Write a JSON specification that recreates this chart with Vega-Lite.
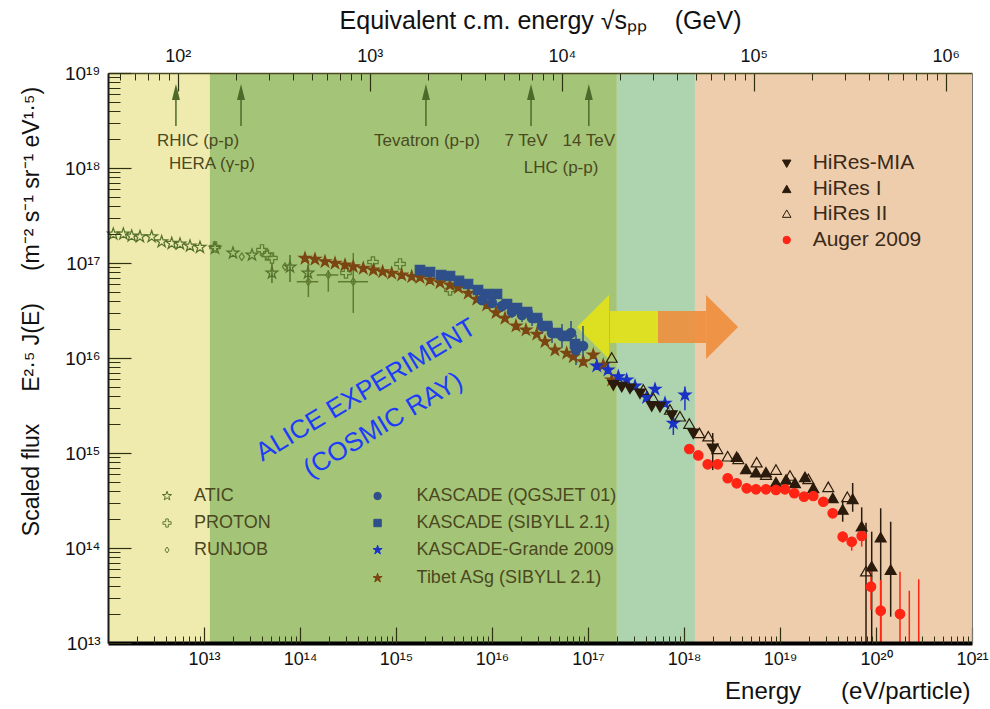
{
"$schema":"https://vega.github.io/schema/vega-lite/v6.json",
"width":864,"height":570,"autosize":"none",
"padding":{"left":108,"top":73,"right":18,"bottom":66},
"background":"#ffffff",
"config":{"view":{"stroke":null},"font":"Liberation Sans","axis":{"grid":false}},
"datasets":{
"bands":[{"band":"a","E":1e12,"E2":1.15e13},{"band":"b","E":1.15e13,"E2":2.0e17},{"band":"c","E":2.0e17,"E2":1.3e18},{"band":"d","E":1.3e18,"E2":1e21}],
"pts":[
{"exp":"ATIC","E":1.135e12,"F":2.018e17},{"exp":"ATIC","E":1.445e12,"F":2.018e17},{"exp":"ATIC","E":1.766e12,"F":1.923e17},{"exp":"ATIC","E":2.153e12,"F":1.892e17},{"exp":"ATIC","E":2.851e12,"F":1.892e17},{"exp":"ATIC","E":3.622e12,"F":1.675e17},{"exp":"ATIC","E":4.613e12,"F":1.611e17},{"exp":"ATIC","E":5.623e12,"F":1.585e17},{"exp":"ATIC","E":7.145e12,"F":1.51e17},{"exp":"ATIC","E":9.08e12,"F":1.462e17},{"exp":"ATIC","E":1.303e13,"F":1.429e17},{"exp":"ATIC","E":2.004e13,"F":1.274e17},{"exp":"ATIC","E":3.162e13,"F":1.213e17},{"exp":"ATIC","E":5.105e13,"F":7.85e16,"Flo":6.15e16,"Fhi":1.0e17},{"exp":"ATIC","E":7.87e13,"F":9.08e16,"Flo":6.31e16,"Fhi":1.213e17},{"exp":"ATIC","E":1.211e14,"F":7.85e16,"Flo":6.3e16,"Fhi":9.5e16},
{"exp":"PROTON","E":1.303e13,"F":1.472e17},{"exp":"PROTON","E":4.018e13,"F":1.371e17},{"exp":"PROTON","E":4.529e13,"F":1.213e17},{"exp":"PROTON","E":5.105e13,"F":1.13e17},{"exp":"PROTON","E":3.013e14,"F":7.85e16},{"exp":"PROTON","E":5.754e14,"F":1.023e17},{"exp":"PROTON","E":1.102e15,"F":9.77e16},{"exp":"PROTON","E":3.652e15,"F":5.2e16},
{"exp":"RUNJOB","E":2.472e13,"F":1.164e17},{"exp":"RUNJOB","E":6.982e13,"F":9.14e16},{"exp":"RUNJOB","E":1.222e14,"F":6.353e16,"Flo":4.385e16,"Fhi":1.076e17,"Elo":9.25e13,"Ehi":1.552e14},{"exp":"RUNJOB","E":1.972e14,"F":7.48e16,"Flo":4.99e16,"Fhi":8.43e16,"Elo":1.493e14,"Ehi":2.506e14},{"exp":"RUNJOB","E":3.589e14,"F":6.353e16,"Flo":2.979e16,"Fhi":1.274e17,"Elo":2.489e14,"Ehi":5.105e14},
{"exp":"Tibet ASg (SIBYLL 2.1)","E":1.127e14,"F":1.119e17},{"exp":"Tibet ASg (SIBYLL 2.1)","E":1.432e14,"F":1.094e17},{"exp":"Tibet ASg (SIBYLL 2.1)","E":1.82e14,"F":1.033e17},{"exp":"Tibet ASg (SIBYLL 2.1)","E":2.317e14,"F":9.93e16},{"exp":"Tibet ASg (SIBYLL 2.1)","E":2.944e14,"F":9.53e16},{"exp":"Tibet ASg (SIBYLL 2.1)","E":3.589e14,"F":9.14e16},{"exp":"Tibet ASg (SIBYLL 2.1)","E":4.56e14,"F":8.79e16},{"exp":"Tibet ASg (SIBYLL 2.1)","E":5.808e14,"F":8.43e16},{"exp":"Tibet ASg (SIBYLL 2.1)","E":7.26e14,"F":8.09e16},{"exp":"Tibet ASg (SIBYLL 2.1)","E":9.02e14,"F":7.8e16},{"exp":"Tibet ASg (SIBYLL 2.1)","E":1.146e15,"F":7.48e16},{"exp":"Tibet ASg (SIBYLL 2.1)","E":1.459e15,"F":7.18e16},{"exp":"Tibet ASg (SIBYLL 2.1)","E":1.778e15,"F":7.06e16},{"exp":"Tibet ASg (SIBYLL 2.1)","E":2.259e15,"F":6.62e16},{"exp":"Tibet ASg (SIBYLL 2.1)","E":2.871e15,"F":6.21e16},{"exp":"Tibet ASg (SIBYLL 2.1)","E":3.652e15,"F":5.86e16},{"exp":"Tibet ASg (SIBYLL 2.1)","E":4.457e15,"F":5.5e16},{"exp":"Tibet ASg (SIBYLL 2.1)","E":5.662e15,"F":4.8e16},{"exp":"Tibet ASg (SIBYLL 2.1)","E":6.934e15,"F":4.15e16},{"exp":"Tibet ASg (SIBYLL 2.1)","E":8.81e15,"F":3.614e16},{"exp":"Tibet ASg (SIBYLL 2.1)","E":1.102e16,"F":3.0e16},{"exp":"Tibet ASg (SIBYLL 2.1)","E":1.365e16,"F":2.618e16},{"exp":"Tibet ASg (SIBYLL 2.1)","E":1.778e16,"F":2.173e16},{"exp":"Tibet ASg (SIBYLL 2.1)","E":2.259e16,"F":1.972e16},{"exp":"Tibet ASg (SIBYLL 2.1)","E":2.924e16,"F":1.778e16},{"exp":"Tibet ASg (SIBYLL 2.1)","E":3.565e16,"F":1.486e16},{"exp":"Tibet ASg (SIBYLL 2.1)","E":4.529e16,"F":1.213e16},{"exp":"Tibet ASg (SIBYLL 2.1)","E":6.0e16,"F":1.122e16},{"exp":"Tibet ASg (SIBYLL 2.1)","E":7.03e16,"F":1.033e16},{"exp":"Tibet ASg (SIBYLL 2.1)","E":8.93e16,"F":9.14e15},{"exp":"Tibet ASg (SIBYLL 2.1)","E":1.135e17,"F":1.076e16},{"exp":"Tibet ASg (SIBYLL 2.1)","E":1.442e17,"F":8.43e15},{"exp":"Tibet ASg (SIBYLL 2.1)","E":1.766e17,"F":5.86e15},
{"exp":"KASCADE (SIBYLL 2.1)","E":1.778e15,"F":8.43e16},{"exp":"KASCADE (SIBYLL 2.1)","E":2.259e15,"F":8.04e16},{"exp":"KASCADE (SIBYLL 2.1)","E":2.944e15,"F":7.48e16},{"exp":"KASCADE (SIBYLL 2.1)","E":3.652e15,"F":7.3e16},{"exp":"KASCADE (SIBYLL 2.1)","E":4.529e15,"F":6.47e16},{"exp":"KASCADE (SIBYLL 2.1)","E":5.623e15,"F":6.01e16},{"exp":"KASCADE (SIBYLL 2.1)","E":7.145e15,"F":5.2e16},{"exp":"KASCADE (SIBYLL 2.1)","E":8.87e15,"F":4.72e16},{"exp":"KASCADE (SIBYLL 2.1)","E":1.127e16,"F":4.72e16},{"exp":"KASCADE (SIBYLL 2.1)","E":1.432e16,"F":3.7e16},{"exp":"KASCADE (SIBYLL 2.1)","E":1.82e16,"F":3.357e16},{"exp":"KASCADE (SIBYLL 2.1)","E":2.317e16,"F":3.048e16},{"exp":"KASCADE (SIBYLL 2.1)","E":2.944e16,"F":2.636e16},{"exp":"KASCADE (SIBYLL 2.1)","E":3.741e16,"F":2.173e16},{"exp":"KASCADE (SIBYLL 2.1)","E":4.753e16,"F":1.832e16},{"exp":"KASCADE (SIBYLL 2.1)","E":5.9e16,"F":1.706e16},{"exp":"KASCADE (SIBYLL 2.1)","E":7.33e16,"F":1.403e16},
{"exp":"KASCADE (QGSJET 01)","E":7.87e15,"F":4.083e16,"Flo":3.61e16,"Fhi":4.61e16},{"exp":"KASCADE (QGSJET 01)","E":1.0e16,"F":3.793e16,"Flo":3.36e16,"Fhi":4.29e16},{"exp":"KASCADE (QGSJET 01)","E":1.271e16,"F":3.524e16,"Flo":3.05e16,"Fhi":4.07e16},{"exp":"KASCADE (QGSJET 01)","E":1.614e16,"F":3.048e16,"Flo":2.64e16,"Fhi":3.52e16},{"exp":"KASCADE (QGSJET 01)","E":2.054e16,"F":2.838e16,"Flo":2.39e16,"Fhi":3.37e16},{"exp":"KASCADE (QGSJET 01)","E":2.612e16,"F":2.636e16,"Flo":2.17e16,"Fhi":3.2e16},{"exp":"KASCADE (QGSJET 01)","E":3.319e16,"F":2.173e16,"Flo":1.79e16,"Fhi":2.64e16},{"exp":"KASCADE (QGSJET 01)","E":4.217e16,"F":1.832e16,"Flo":1.44e16,"Fhi":2.33e16},{"exp":"KASCADE (QGSJET 01)","E":5.358e16,"F":1.706e16,"Flo":1.28e16,"Fhi":2.28e16},{"exp":"KASCADE (QGSJET 01)","E":6.653e16,"F":1.832e16,"Flo":1.37e16,"Fhi":2.45e16},{"exp":"KASCADE (QGSJET 01)","E":7.5e16,"F":1.213e16,"Flo":8.43e15,"Fhi":1.75e16},{"exp":"KASCADE (QGSJET 01)","E":8.87e16,"F":1.337e16,"Flo":8.25e15,"Fhi":2.17e16},
{"exp":"KASCADE-Grande 2009","E":1.233e17,"F":8.24e15},{"exp":"KASCADE-Grande 2009","E":1.614e17,"F":7.48e15},{"exp":"KASCADE-Grande 2009","E":2.07e17,"F":6.353e15},{"exp":"KASCADE-Grande 2009","E":2.529e17,"F":5.86e15},{"exp":"KASCADE-Grande 2009","E":3.09e17,"F":5.07e15},{"exp":"KASCADE-Grande 2009","E":4.083e17,"F":3.855e15},{"exp":"KASCADE-Grande 2009","E":4.989e17,"F":4.688e15},{"exp":"KASCADE-Grande 2009","E":6.339e17,"F":3.334e15},{"exp":"KASCADE-Grande 2009","E":7.745e17,"F":2.056e15,"Flo":1.549e15,"Fhi":2.512e15},{"exp":"KASCADE-Grande 2009","E":1.023e18,"F":4.083e15,"Flo":2.818e15,"Fhi":5.012e15},
{"exp":"HiRes-MIA","E":1.837e17,"F":5.2e15},{"exp":"HiRes-MIA","E":2.244e17,"F":4.989e15},{"exp":"HiRes-MIA","E":2.738e17,"F":4.797e15},{"exp":"HiRes-MIA","E":3.483e17,"F":4.246e15},{"exp":"HiRes-MIA","E":4.613e17,"F":3.126e15},{"exp":"HiRes-MIA","E":5.623e17,"F":3.069e15},{"exp":"HiRes-MIA","E":7.447e17,"F":2.512e15},{"exp":"HiRes-MIA","E":1.25e18,"F":1.611e15},{"exp":"HiRes-MIA","E":1.991e18,"F":1.119e15,"Flo":6.61e14,"Fhi":1.622e15},
{"exp":"HiRes I","E":3.54e18,"F":9.02e14},{"exp":"HiRes I","E":4.426e18,"F":6.73e14},{"exp":"HiRes I","E":5.623e18,"F":6.21e14},{"exp":"HiRes I","E":7.145e18,"F":6.21e14},{"exp":"HiRes I","E":9.08e18,"F":4.864e14},{"exp":"HiRes I","E":1.156e19,"F":5.2e14},{"exp":"HiRes I","E":1.432e19,"F":4.797e14},{"exp":"HiRes I","E":1.82e19,"F":5.546e14},{"exp":"HiRes I","E":2.223e19,"F":4.246e14},{"exp":"HiRes I","E":3.54e19,"F":3.334e14},{"exp":"HiRes I","E":4.498e19,"F":2.512e14,"Flo":1.89e14,"Fhi":3.2e14},{"exp":"HiRes I","E":5.715e19,"F":3.258e14,"Flo":2.41e14,"Fhi":4.83e14},{"exp":"HiRes I","E":7.096e19,"F":1.675e14,"Flo":1.545e14,"Fhi":2.68e14},{"exp":"HiRes I","E":9.02e19,"F":6.353e13,"Flo":1e13,"Fhi":1.486e14},{"exp":"HiRes I","E":1.119e20,"F":1.282e14,"Flo":1e13,"Fhi":2.618e14},{"exp":"HiRes I","E":1.422e20,"F":5.86e13,"Flo":1.892e13,"Fhi":1.89e14},
{"exp":"HiRes II","E":1.766e17,"F":1.0e16},{"exp":"HiRes II","E":3.767e17,"F":4.603e15},{"exp":"HiRes II","E":4.786e17,"F":3.767e15},{"exp":"HiRes II","E":7.145e17,"F":2.838e15},{"exp":"HiRes II","E":9.08e17,"F":2.41e15},{"exp":"HiRes II","E":1.135e18,"F":2.018e15},{"exp":"HiRes II","E":1.445e18,"F":1.611e15},{"exp":"HiRes II","E":1.791e18,"F":1.486e15},{"exp":"HiRes II","E":2.223e18,"F":1.094e15},{"exp":"HiRes II","E":2.851e18,"F":9.14e14},{"exp":"HiRes II","E":3.681e18,"F":8.59e14},{"exp":"HiRes II","E":5.715e18,"F":7.91e14},{"exp":"HiRes II","E":7.145e18,"F":5.86e14},{"exp":"HiRes II","E":9.08e18,"F":6.62e14},{"exp":"HiRes II","E":1.271e19,"F":5.73e14},{"exp":"HiRes II","E":1.972e19,"F":5.28e14},{"exp":"HiRes II","E":3.184e19,"F":4.355e14},{"exp":"HiRes II","E":5.023e19,"F":3.42e14},{"exp":"HiRes II","E":7.87e19,"F":5.64e13,"Flo":1e13,"Fhi":1.845e14},
{"exp":"Auger 2009","E":1.135e18,"F":1.102e15},{"exp":"Auger 2009","E":1.409e18,"F":9.42e14},{"exp":"Auger 2009","E":1.766e18,"F":7.6e14},{"exp":"Auger 2009","E":2.244e18,"F":7.6e14},{"exp":"Auger 2009","E":2.851e18,"F":5.42e14},{"exp":"Auger 2009","E":3.54e18,"F":4.797e14},{"exp":"Auger 2009","E":4.498e18,"F":4.246e14},{"exp":"Auger 2009","E":5.623e18,"F":4.15e14},{"exp":"Auger 2009","E":7.145e18,"F":4.15e14},{"exp":"Auger 2009","E":9.08e18,"F":4.083e14},{"exp":"Auger 2009","E":1.127e19,"F":4.15e14},{"exp":"Auger 2009","E":1.409e19,"F":3.767e14},{"exp":"Auger 2009","E":1.778e19,"F":3.467e14},{"exp":"Auger 2009","E":2.223e19,"F":3.524e14},{"exp":"Auger 2009","E":2.825e19,"F":3.069e14},{"exp":"Auger 2009","E":3.54e19,"F":2.317e14},{"exp":"Auger 2009","E":4.498e19,"F":1.315e14,"Flo":1.138e14,"Fhi":1.486e14},{"exp":"Auger 2009","E":5.585e19,"F":1.164e14,"Flo":9.38e13,"Fhi":1.315e14},{"exp":"Auger 2009","E":7.096e19,"F":1.337e14,"Flo":1.033e14,"Fhi":1.545e14},{"exp":"Auger 2009","E":8.87e19,"F":3.917e13,"Flo":2.223e13,"Fhi":6.11e13},{"exp":"Auger 2009","E":1.119e20,"F":2.188e13,"Flo":1e13,"Fhi":4.6e13},{"exp":"Auger 2009","E":1.778e20,"F":2.018e13,"Flo":1e13,"Fhi":5.64e13},{"exp":"Auger 2009","E":2.223e20,"F":null,"Flo":1e13,"Fhi":3.548e13},{"exp":"Auger 2009","E":2.786e20,"F":null,"Flo":1e13,"Fhi":4.69e13}
],
"leg":[
{"exp":"ATIC","E":4.12e12,"Et":7.87e12,"F":3.524e14,"label":"ATIC","grp":"a"},
{"exp":"PROTON","E":4.12e12,"Et":7.87e12,"F":1.832e14,"label":"PROTON","grp":"a"},
{"exp":"RUNJOB","E":4.12e12,"Et":7.87e12,"F":9.53e13,"label":"RUNJOB","grp":"a"},
{"exp":"KASCADE (QGSJET 01)","E":6.43e14,"Et":1.637e15,"F":3.524e14,"label":"KASCADE (QGSJET 01)","grp":"a"},
{"exp":"KASCADE (SIBYLL 2.1)","E":6.43e14,"Et":1.637e15,"F":1.832e14,"label":"KASCADE (SIBYLL 2.1)","grp":"a"},
{"exp":"KASCADE-Grande 2009","E":6.43e14,"Et":1.637e15,"F":9.53e13,"label":"KASCADE-Grande 2009","grp":"a"},
{"exp":"Tibet ASg (SIBYLL 2.1)","E":6.43e14,"Et":1.637e15,"F":4.83e13,"label":"Tibet ASg (SIBYLL 2.1)","grp":"a"},
{"exp":"HiRes-MIA","E":1.175e19,"Et":2.188e19,"F":1.119e18,"label":"HiRes-MIA","grp":"b"},
{"exp":"HiRes I","E":1.175e19,"Et":2.188e19,"F":5.97e17,"label":"HiRes I","grp":"b"},
{"exp":"HiRes II","E":1.175e19,"Et":2.188e19,"F":3.28e17,"label":"HiRes II","grp":"b"},
{"exp":"Auger 2009","E":1.175e19,"Et":2.188e19,"F":1.746e17,"label":"Auger 2009","grp":"b"}
],
"colliders":[{"E":5.1e12,"F":2.77e18,"F2":6.31e18},{"E":2.43e13,"F":2.77e18,"F2":6.31e18},{"E":2.05e15,"F":2.77e18,"F2":6.31e18},{"E":2.55e16,"F":2.77e18,"F2":6.31e18},{"E":1.02e17,"F":2.77e18,"F2":6.31e18}],
"notes":[{"label":"RHIC (p-p)","E":8.66e12,"F":1.92e18},{"label":"HERA (\u03b3-p)","E":1.21e13,"F":1.10e18},{"label":"Tevatron (p-p)","E":2.1e15,"F":1.92e18},{"label":"7 TeV","E":2.26e16,"F":1.92e18},{"label":"14 TeV","E":1.02e17,"F":1.92e18},{"label":"LHC (p-p)","E":5.24e16,"F":1.0e18}],
"alice":[{"label":"ALICE EXPERIMENT","E":4.87e14,"F":4.6e15},{"label":"(COSMIC RAY)","E":7.33e14,"F":1.97e15}]
},
"layer":[
{"data":{"name":"bands"},"mark":{"type":"rect"},
 "encoding":{
  "x":{"field":"E","type":"quantitative","scale":{"type":"log","domain":[1e12,1e21]},"axis":{"orient":"bottom","ticks":false,"labels":false,"grid":false,"domain":true,"domainColor":"#000000","domainWidth":4,"title":"Energy\u00a0\u00a0\u00a0\u00a0\u00a0\u00a0(eV/particle)","titleFontSize":24,"titleFontWeight":"normal","titleColor":"#111111","titleX":862,"titleY":48,"titleAlign":"right","titleBaseline":"middle","zindex":1}},
  "x2":{"field":"E2"},
  "y":{"datum":1e13,"type":"quantitative","scale":{"type":"log","domain":[1e13,1e19]},"axis":null},
  "y2":{"datum":1e19},
  "color":{"field":"band","type":"nominal","scale":{"domain":["a","b","c","d"],"range":["#EFEBAF","#A4C578","#AED3AF","#EECDAD"]},"legend":null}
 }},
{"data":{"values":[{"E":1.694e17,"E2":5.36e17,"F":1.44e16,"F2":3.126e16}]},"mark":{"type":"rect","color":"#E0E01C","opacity":0.95},
 "encoding":{"x":{"field":"E","type":"quantitative","scale":{"type":"log","domain":[1e12,1e21]},"axis":null},"x2":{"field":"E2"},"y":{"field":"F","type":"quantitative","scale":{"type":"log","domain":[1e13,1e19]},"axis":null},"y2":{"field":"F2"}}},
{"data":{"values":[{"E":5.36e17,"E2":1.694e18,"F":1.44e16,"F2":3.126e16}]},"mark":{"type":"rect","color":"#EE8E3C","opacity":0.9},
 "encoding":{"x":{"field":"E","type":"quantitative","scale":{"type":"log","domain":[1e12,1e21]},"axis":null},"x2":{"field":"E2"},"y":{"field":"F","type":"quantitative","scale":{"type":"log","domain":[1e13,1e19]},"axis":null},"y2":{"field":"F2"}}},
{"data":{"values":[{"E":1.127e17,"F":2.12e16}]},"mark":{"type":"point","filled":true,"shape":"M-1,0L1,-2L1,2Z","size":1024,"color":"#E0E01C","opacity":0.95,"strokeWidth":0},
 "encoding":{"x":{"field":"E","type":"quantitative","scale":{"type":"log","domain":[1e12,1e21]},"axis":null},"y":{"field":"F","type":"quantitative","scale":{"type":"log","domain":[1e13,1e19]},"axis":null}}},
{"data":{"values":[{"E":2.49e18,"F":2.12e16}]},"mark":{"type":"point","filled":true,"shape":"M1,0L-1,-2L-1,2Z","size":1024,"color":"#EE8E3C","opacity":0.9,"strokeWidth":0},
 "encoding":{"x":{"field":"E","type":"quantitative","scale":{"type":"log","domain":[1e12,1e21]},"axis":null},"y":{"field":"F","type":"quantitative","scale":{"type":"log","domain":[1e13,1e19]},"axis":null}}},
{"data":{"name":"pts"},"transform":[{"filter":"isValid(datum.Flo)"}],"mark":{"type":"rule","strokeWidth":1.5},
 "encoding":{
  "x":{"field":"E","type":"quantitative","scale":{"type":"log","domain":[1e12,1e21]},"axis":{"orient":"bottom","offset":-16,"tickSize":16,"values":[1e13,1e14,1e15,1e16,1e17,1e18,1e19,1e20,1e21],"domain":false,"grid":false,"title":null,"tickColor":"#2E3012","tickWidth":1.2,"labelExpr":"'10' + substring('\u2070\u00b9\u00b2\u00b3\u2074\u2075\u2076\u2077\u2078\u2079', floor(round(log(datum.value)/LN10)/10), floor(round(log(datum.value)/LN10)/10)+1) + substring('\u2070\u00b9\u00b2\u00b3\u2074\u2075\u2076\u2077\u2078\u2079', round(log(datum.value)/LN10)%10, round(log(datum.value)/LN10)%10+1)","labelFontSize":18,"labelColor":"#111111","labelPadding":7,"labelFlush":false,"labelOverlap":false,"zindex":1}},
  "y":{"field":"Flo","type":"quantitative","scale":{"type":"log","domain":[1e13,1e19]},"axis":{"orient":"left","offset":-23,"tickSize":23,"values":[1e13,1e14,1e15,1e16,1e17,1e18,1e19],"domain":false,"grid":false,"title":null,"tickColor":"#2E3012","tickWidth":1.2,"labelExpr":"'10' + substring('\u2070\u00b9\u00b2\u00b3\u2074\u2075\u2076\u2077\u2078\u2079', floor(round(log(datum.value)/LN10)/10), floor(round(log(datum.value)/LN10)/10)+1) + substring('\u2070\u00b9\u00b2\u00b3\u2074\u2075\u2076\u2077\u2078\u2079', round(log(datum.value)/LN10)%10, round(log(datum.value)/LN10)%10+1)","labelFontSize":19,"labelColor":"#111111","labelPadding":8,"labelFlush":false,"labelOverlap":false,"zindex":1}},
  "y2":{"field":"Fhi"},
  "stroke":{"field":"exp","type":"nominal","scale":{"domain":["ATIC","PROTON","RUNJOB","KASCADE (QGSJET 01)","KASCADE (SIBYLL 2.1)","KASCADE-Grande 2009","Tibet ASg (SIBYLL 2.1)","HiRes-MIA","HiRes I","HiRes II","Auger 2009"],"range":["#55702C","#5F7B30","#5F7B30","#2F4F8A","#2F4F8A","#1A33C6","#7B4612","#2B1B0C","#2B1B0C","#2B1B0C","#FF2414"]},"legend":null}
 }},
{"data":{"name":"pts"},"transform":[{"filter":"isValid(datum.Elo)"}],"mark":{"type":"rule","strokeWidth":1.5},
 "encoding":{
  "x":{"field":"Elo","type":"quantitative","scale":{"type":"log","domain":[1e12,1e21]},"axis":{"orient":"bottom","offset":-7,"tickSize":7,"labels":false,"domain":false,"grid":false,"title":null,"tickColor":"#2E3012","tickWidth":1,"zindex":1,"values":[2e12,3e12,4e12,5e12,6e12,7e12,8e12,9e12,2e13,3e13,4e13,5e13,6e13,7e13,8e13,9e13,2e14,3e14,4e14,5e14,6e14,7e14,8e14,9e14,2e15,3e15,4e15,5e15,6e15,7e15,8e15,9e15,2e16,3e16,4e16,5e16,6e16,7e16,8e16,9e16,2e17,3e17,4e17,5e17,6e17,7e17,8e17,9e17,2e18,3e18,4e18,5e18,6e18,7e18,8e18,9e18,2e19,3e19,4e19,5e19,6e19,7e19,8e19,9e19,2e20,3e20,4e20,5e20,6e20,7e20,8e20,9e20]}},
  "x2":{"field":"Ehi"},
  "y":{"field":"F","type":"quantitative","scale":{"type":"log","domain":[1e13,1e19]},"axis":{"orient":"left","offset":-12,"tickSize":12,"labels":false,"domain":false,"grid":false,"title":null,"tickColor":"#2E3012","tickWidth":1,"zindex":1,"values":[2e13,3e13,4e13,5e13,6e13,7e13,8e13,9e13,2e14,3e14,4e14,5e14,6e14,7e14,8e14,9e14,2e15,3e15,4e15,5e15,6e15,7e15,8e15,9e15,2e16,3e16,4e16,5e16,6e16,7e16,8e16,9e16,2e17,3e17,4e17,5e17,6e17,7e17,8e17,9e17,2e18,3e18,4e18,5e18,6e18,7e18,8e18,9e18]}},
  "stroke":{"field":"exp","type":"nominal","scale":{"domain":["ATIC","PROTON","RUNJOB","KASCADE (QGSJET 01)","KASCADE (SIBYLL 2.1)","KASCADE-Grande 2009","Tibet ASg (SIBYLL 2.1)","HiRes-MIA","HiRes I","HiRes II","Auger 2009"],"range":["#55702C","#5F7B30","#5F7B30","#2F4F8A","#2F4F8A","#1A33C6","#7B4612","#2B1B0C","#2B1B0C","#2B1B0C","#FF2414"]},"legend":null}
 }},
{"data":{"name":"pts"},"mark":{"type":"point","filled":true,"size":90,"opacity":1,"strokeWidth":1.2},
 "encoding":{
  "x":{"field":"E","type":"quantitative","scale":{"type":"log","domain":[1e12,1e21]},"axis":{"orient":"top","offset":-18,"tickSize":18,"values":[5.3305e12,5.3305e14,5.3305e16,5.3305e18,5.3305e20],"domain":false,"grid":false,"title":null,"tickColor":"#2E3012","tickWidth":1.2,"labelExpr":"'10' + substring('\u2070\u00b9\u00b2\u00b3\u2074\u2075\u2076\u2077\u2078\u2079', round(log(datum.value/5.3305e8)/LN10/2), round(log(datum.value/5.3305e8)/LN10/2)+1)","labelFontSize":18,"labelColor":"#111111","labelPadding":8,"labelFlush":false,"labelOverlap":false,"zindex":1}},
  "y":{"field":"F","type":"quantitative","scale":{"type":"log","domain":[1e13,1e19]},"axis":{"orient":"left","ticks":false,"labels":false,"grid":false,"domainColor":"#1A1A1A","domainWidth":2,"title":"Scaled flux\u00a0\u00a0\u00a0\u00a0\u00a0E\u00b2\u00b7\u2075 J(E)\u00a0\u00a0\u00a0\u00a0\u00a0(m\u207b\u00b2 s\u207b\u00b9 sr\u207b\u00b9 eV\u00b9\u00b7\u2075)","titleFontSize":23,"titleFontWeight":"normal","titleColor":"#111111","titleX":-77,"titleY":238,"titleAngle":-90,"titleAlign":"center","titleBaseline":"middle","zindex":1}},
  "shape":{"field":"exp","type":"nominal","scale":{"domain":["ATIC","PROTON","RUNJOB","KASCADE (QGSJET 01)","KASCADE (SIBYLL 2.1)","KASCADE-Grande 2009","Tibet ASg (SIBYLL 2.1)","HiRes-MIA","HiRes I","HiRes II","Auger 2009"],"range":["M0,-1.3L0.292,-0.402L1.236,-0.402L0.472,0.153L0.764,1.052L0,0.497L-0.764,1.052L-0.472,0.153L-1.236,-0.402L-0.292,-0.402Z","M-0.35,-1.1L0.35,-1.1L0.35,-0.35L1.1,-0.35L1.1,0.35L0.35,0.35L0.35,1.1L-0.35,1.1L-0.35,0.35L-1.1,0.35L-1.1,-0.35L-0.35,-0.35Z","M0,-0.8L0.55,0L0,0.8L-0.55,0Z","circle","square","M0,-1.3L0.292,-0.402L1.236,-0.402L0.472,0.153L0.764,1.052L0,0.497L-0.764,1.052L-0.472,0.153L-1.236,-0.402L-0.292,-0.402Z","M0,-1.3L0.292,-0.402L1.236,-0.402L0.472,0.153L0.764,1.052L0,0.497L-0.764,1.052L-0.472,0.153L-1.236,-0.402L-0.292,-0.402Z","M0,1.1L1.15,-0.9L-1.15,-0.9Z","M0,-1.1L1.15,0.9L-1.15,0.9Z","M0,-1.1L1.15,0.9L-1.15,0.9Z","circle"]},"legend":null},
  "fill":{"field":"exp","type":"nominal","scale":{"domain":["ATIC","PROTON","RUNJOB","KASCADE (QGSJET 01)","KASCADE (SIBYLL 2.1)","KASCADE-Grande 2009","Tibet ASg (SIBYLL 2.1)","HiRes-MIA","HiRes I","HiRes II","Auger 2009"],"range":["transparent","transparent","transparent","#2F4F8A","#2F4F8A","#1A33C6","#7B4612","#2B1B0C","#2B1B0C","transparent","#FF2414"]},"legend":null},
  "stroke":{"field":"exp","type":"nominal","scale":{"domain":["ATIC","PROTON","RUNJOB","KASCADE (QGSJET 01)","KASCADE (SIBYLL 2.1)","KASCADE-Grande 2009","Tibet ASg (SIBYLL 2.1)","HiRes-MIA","HiRes I","HiRes II","Auger 2009"],"range":["#55702C","#5F7B30","#5F7B30","#2F4F8A","#2F4F8A","#1A33C6","#7B4612","#2B1B0C","#2B1B0C","#2B1B0C","#FF2414"]},"legend":null}
 }},
{"data":{"name":"leg"},"mark":{"type":"point","filled":true,"size":55,"opacity":1,"strokeWidth":1},
 "encoding":{
  "x":{"field":"E","type":"quantitative","scale":{"type":"log","domain":[1e12,1e21]},"axis":{"orient":"top","offset":-7,"tickSize":7,"labels":false,"domain":false,"grid":false,"title":null,"tickColor":"#2E3012","tickWidth":1,"zindex":1,"values":[1.3326e12,1.919e12,2.612e12,3.4115e12,4.3177e12,2.1322e13,4.7975e13,8.5288e13,1.3326e14,1.919e14,2.612e14,3.4115e14,4.3177e14,2.1322e15,4.7975e15,8.5288e15,1.3326e16,1.919e16,2.612e16,3.4115e16,4.3177e16,2.1322e17,4.7975e17,8.5288e17,1.3326e18,1.919e18,2.612e18,3.4115e18,4.3177e18,2.1322e19,4.7975e19,8.5288e19,1.3326e20,1.919e20,2.612e20,3.4115e20,4.3177e20]}},
  "y":{"field":"F","type":"quantitative","scale":{"type":"log","domain":[1e13,1e19]},"axis":{"orient":"right","ticks":false,"labels":false,"grid":false,"domainColor":"#777777","domainWidth":1,"title":null,"zindex":1}},
  "shape":{"field":"exp","type":"nominal","scale":{"domain":["ATIC","PROTON","RUNJOB","KASCADE (QGSJET 01)","KASCADE (SIBYLL 2.1)","KASCADE-Grande 2009","Tibet ASg (SIBYLL 2.1)","HiRes-MIA","HiRes I","HiRes II","Auger 2009"],"range":["M0,-1.3L0.292,-0.402L1.236,-0.402L0.472,0.153L0.764,1.052L0,0.497L-0.764,1.052L-0.472,0.153L-1.236,-0.402L-0.292,-0.402Z","M-0.35,-1.1L0.35,-1.1L0.35,-0.35L1.1,-0.35L1.1,0.35L0.35,0.35L0.35,1.1L-0.35,1.1L-0.35,0.35L-1.1,0.35L-1.1,-0.35L-0.35,-0.35Z","M0,-0.8L0.55,0L0,0.8L-0.55,0Z","circle","square","M0,-1.3L0.292,-0.402L1.236,-0.402L0.472,0.153L0.764,1.052L0,0.497L-0.764,1.052L-0.472,0.153L-1.236,-0.402L-0.292,-0.402Z","M0,-1.3L0.292,-0.402L1.236,-0.402L0.472,0.153L0.764,1.052L0,0.497L-0.764,1.052L-0.472,0.153L-1.236,-0.402L-0.292,-0.402Z","M0,1.1L1.15,-0.9L-1.15,-0.9Z","M0,-1.1L1.15,0.9L-1.15,0.9Z","M0,-1.1L1.15,0.9L-1.15,0.9Z","circle"]},"legend":null},
  "fill":{"field":"exp","type":"nominal","scale":{"domain":["ATIC","PROTON","RUNJOB","KASCADE (QGSJET 01)","KASCADE (SIBYLL 2.1)","KASCADE-Grande 2009","Tibet ASg (SIBYLL 2.1)","HiRes-MIA","HiRes I","HiRes II","Auger 2009"],"range":["transparent","transparent","transparent","#2F4F8A","#2F4F8A","#1A33C6","#7B4612","#2B1B0C","#2B1B0C","transparent","#FF2414"]},"legend":null},
  "stroke":{"field":"exp","type":"nominal","scale":{"domain":["ATIC","PROTON","RUNJOB","KASCADE (QGSJET 01)","KASCADE (SIBYLL 2.1)","KASCADE-Grande 2009","Tibet ASg (SIBYLL 2.1)","HiRes-MIA","HiRes I","HiRes II","Auger 2009"],"range":["#55702C","#5F7B30","#5F7B30","#2F4F8A","#2F4F8A","#1A33C6","#7B4612","#2B1B0C","#2B1B0C","#2B1B0C","#FF2414"]},"legend":null}
 }},
{"data":{"name":"leg"},"transform":[{"filter":"datum.grp == 'a'"}],"mark":{"type":"text","align":"left","baseline":"middle","fontSize":18,"color":"#4B4820"},
 "encoding":{
  "x":{"field":"Et","type":"quantitative","scale":{"type":"log","domain":[1e12,1e21]},"axis":{"orient":"top","ticks":false,"labels":false,"grid":false,"domainColor":"#4A4A1E","domainWidth":1.5,"title":"Equivalent c.m. energy \u221as\u209a\u209a\u00a0\u00a0\u00a0\u00a0(GeV)","titleFontSize":25,"titleFontWeight":"normal","titleColor":"#111111","titleX":432,"titleY":-53,"titleAlign":"center","titleBaseline":"middle","zindex":1}},
  "y":{"field":"F","type":"quantitative","scale":{"type":"log","domain":[1e13,1e19]},"axis":null},
  "text":{"field":"label"}
 }},
{"data":{"name":"leg"},"transform":[{"filter":"datum.grp == 'b'"}],"mark":{"type":"text","align":"left","baseline":"middle","fontSize":21,"color":"#3B2A18"},
 "encoding":{
  "x":{"field":"Et","type":"quantitative","scale":{"type":"log","domain":[1e12,1e21]},"axis":null},
  "y":{"field":"F","type":"quantitative","scale":{"type":"log","domain":[1e13,1e19]},"axis":null},
  "text":{"field":"label"}
 }},
{"data":{"name":"colliders"},"mark":{"type":"rule","color":"#4E6A2A","strokeWidth":1.5},
 "encoding":{
  "x":{"field":"E","type":"quantitative","scale":{"type":"log","domain":[1e12,1e21]},"axis":null},
  "y":{"field":"F","type":"quantitative","scale":{"type":"log","domain":[1e13,1e19]},"axis":null},
  "y2":{"field":"F2"}
 }},
{"data":{"name":"colliders"},"mark":{"type":"point","filled":true,"shape":"M0,-1L0.5,1L-0.5,1Z","size":256,"color":"#4E6A2A","opacity":1,"strokeWidth":0},
 "encoding":{
  "x":{"field":"E","type":"quantitative","scale":{"type":"log","domain":[1e12,1e21]},"axis":null},
  "y":{"field":"F2","type":"quantitative","scale":{"type":"log","domain":[1e13,1e19]},"axis":null}
 }},
{"data":{"name":"notes"},"mark":{"type":"text","align":"center","baseline":"middle","fontSize":17,"color":"#4A4A1E"},
 "encoding":{
  "x":{"field":"E","type":"quantitative","scale":{"type":"log","domain":[1e12,1e21]},"axis":null},
  "y":{"field":"F","type":"quantitative","scale":{"type":"log","domain":[1e13,1e19]},"axis":null},
  "text":{"field":"label"}
 }},
{"data":{"name":"alice"},"mark":{"type":"text","align":"center","baseline":"middle","fontSize":26,"angle":-31,"color":"#1C3CF8"},
 "encoding":{
  "x":{"field":"E","type":"quantitative","scale":{"type":"log","domain":[1e12,1e21]},"axis":null},
  "y":{"field":"F","type":"quantitative","scale":{"type":"log","domain":[1e13,1e19]},"axis":null},
  "text":{"field":"label"}
 }}
],
"resolve":{"axis":{"x":"independent","y":"independent"}}
}
